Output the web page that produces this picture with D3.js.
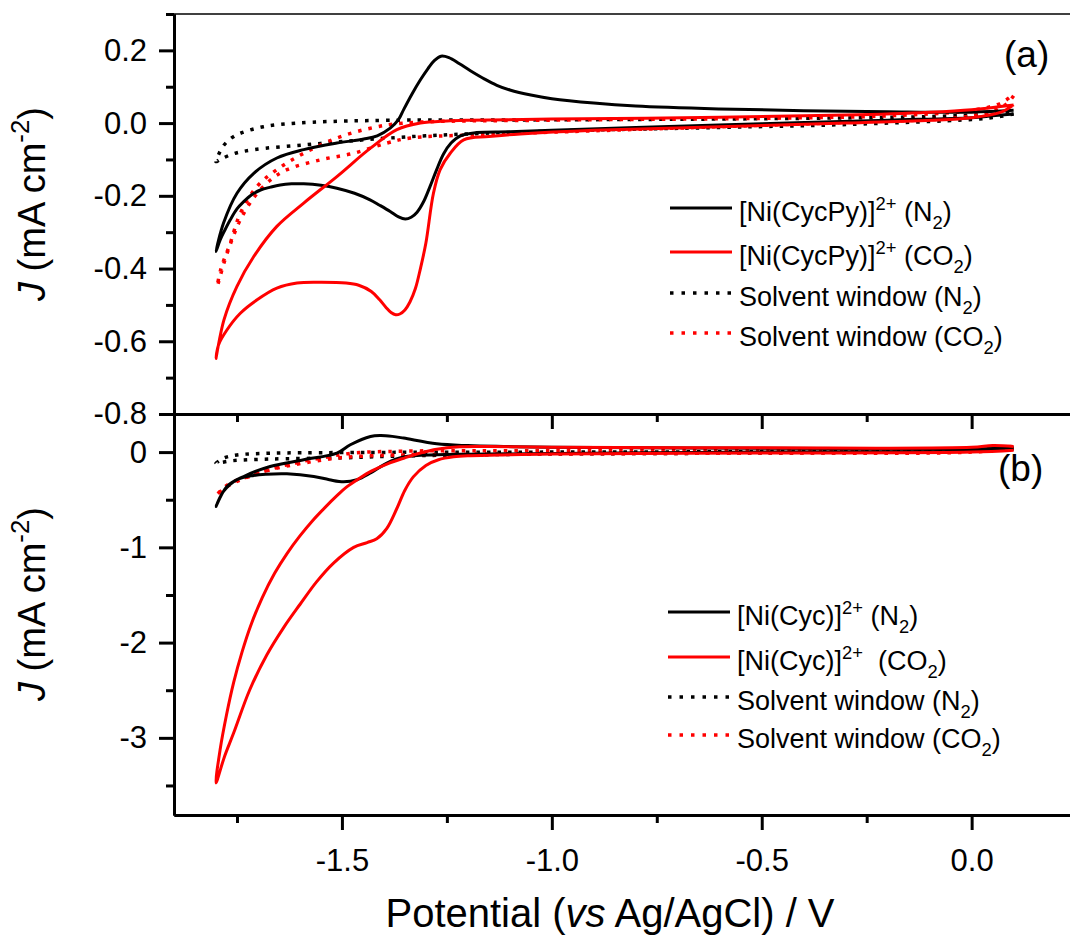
<!DOCTYPE html>
<html>
<head>
<meta charset="utf-8">
<script src="https://cdn.jsdelivr.net/npm/d3@7"></script>
<style>
  body { margin: 0; background: #fff; }
  svg { display: block; font-family: "Liberation Sans", Arial, sans-serif; }
</style>
</head>
<body>
<svg id="chart" width="1070" height="936"></svg>
<script>
// ---- data (potential in V vs Ag/AgCl, current density in mA cm-2) ----
// panel (a): [Ni(CycPy)]2+
const cycPyN2E = [0.10, 0.05, 0.0, -0.2, -0.5, -0.8, -1.0, -1.1, -1.18, -1.218, -1.24, -1.258, -1.275, -1.29, -1.305, -1.321, -1.335, -1.349, -1.365, -1.385, -1.41, -1.433, -1.47, -1.512, -1.55, -1.591, -1.62, -1.647, -1.67, -1.694, -1.715, -1.734, -1.75, -1.766, -1.78, -1.79, -1.8,
  -1.782, -1.75, -1.71, -1.655, -1.591, -1.512, -1.448, -1.416, -1.385, -1.365, -1.353, -1.333, -1.313, -1.295, -1.28, -1.264, -1.245, -1.22, -1.194, -1.16, -1.131, -1.1, -1.05, -1.0, -0.9, -0.8, -0.6, -0.4, -0.2, 0.0, 0.1];
const cycPyN2J = [0.025, 0.02, 0.015, 0.008, -0.002, -0.012, -0.02, -0.024, -0.026, -0.035, -0.055, -0.085, -0.13, -0.174, -0.215, -0.245, -0.259, -0.264, -0.258, -0.243, -0.226, -0.211, -0.193, -0.179, -0.171, -0.167, -0.167, -0.17, -0.176, -0.184, -0.197, -0.216, -0.236, -0.266, -0.297, -0.321, -0.353,
  -0.275, -0.193, -0.138, -0.096, -0.073, -0.055, -0.044, -0.035, -0.014, 0.01, 0.037, 0.08, 0.119, 0.15, 0.172, 0.184, 0.18, 0.163, 0.144, 0.121, 0.104, 0.091, 0.077, 0.067, 0.055, 0.047, 0.039, 0.034, 0.031, 0.03, 0.035];

const cycPyCO2E = [0.1, 0.07, 0.0, -0.3, -0.6, -0.9, -1.075, -1.15, -1.21, -1.242, -1.266, -1.282, -1.3, -1.313, -1.325, -1.338, -1.35, -1.362, -1.372, -1.383, -1.395, -1.41, -1.43, -1.46, -1.49, -1.551, -1.607, -1.655, -1.702, -1.742, -1.774, -1.794, -1.8,
  -1.781, -1.75, -1.71, -1.655, -1.591, -1.512, -1.432, -1.369, -1.313, -1.25, -1.2, -1.0, -0.6, -0.3, -0.1, 0.0, 0.1];
const cycPyCO2J = [0.05, 0.03, 0.015, 0.0, -0.01, -0.02, -0.03, -0.037, -0.046, -0.083, -0.128, -0.193, -0.33, -0.4, -0.455, -0.492, -0.514, -0.525, -0.527, -0.521, -0.507, -0.486, -0.463, -0.446, -0.44, -0.438, -0.44, -0.454, -0.486, -0.523, -0.569, -0.61, -0.647,
  -0.541, -0.449, -0.367, -0.284, -0.22, -0.147, -0.069, -0.018, 0.0, 0.006, 0.008, 0.011, 0.016, 0.022, 0.03, 0.037, 0.05];

const solvAN2E = [0.1, 0.05, 0.0, -0.3, -0.6, -1.0, -1.3, -1.47, -1.59, -1.71, -1.76, -1.79, -1.8,
  -1.797, -1.794, -1.782, -1.762, -1.742, -1.687, -1.607, -1.432, -1.0, -0.5, -0.1, 0.05, 0.1];
const solvAN2J = [0.025, 0.015, 0.01, -0.004, -0.012, -0.022, -0.035, -0.048, -0.06, -0.073, -0.085, -0.1, -0.106,
  -0.095, -0.087, -0.062, -0.04, -0.028, -0.01, 0.0, 0.007, 0.009, 0.012, 0.018, 0.025, 0.03];

const solvACO2E = [0.1, 0.08, 0.0, -0.3, -0.6, -1.0, -1.2, -1.337, -1.393, -1.472, -1.551, -1.631, -1.67, -1.71, -1.742, -1.762, -1.781, -1.797,
  -1.788, -1.766, -1.742, -1.702, -1.655, -1.591, -1.512, -1.432, -1.353, -1.0, -0.5, -0.2, 0.0, 0.07, 0.1];
const solvACO2J = [0.075, 0.05, 0.02, 0.002, -0.01, -0.025, -0.033, -0.041, -0.055, -0.083, -0.101, -0.128, -0.156, -0.205, -0.266, -0.321, -0.385, -0.449,
  -0.4, -0.33, -0.248, -0.174, -0.128, -0.083, -0.041, -0.014, 0.0, 0.008, 0.013, 0.02, 0.035, 0.055, 0.08];

// panel (b): [Ni(Cyc)]2+
const cycN2E = [0.1, 0.0, -0.5, -1.0, -1.2, -1.274, -1.353, -1.393, -1.432, -1.464, -1.496, -1.53, -1.567, -1.631, -1.68, -1.71, -1.75, -1.782, -1.8,
  -1.774, -1.734, -1.671, -1.591, -1.512, -1.48, -1.432, -1.408, -1.38, -1.353, -1.274, -1.2, -1.115, -1.0, -0.5, 0.0, 0.1];
const cycN2J = [0.03, 0.015, 0.0, -0.015, -0.022, -0.028, -0.052, -0.115, -0.22, -0.29, -0.312, -0.29, -0.256, -0.228, -0.232, -0.245, -0.29, -0.413, -0.571,
  -0.361, -0.256, -0.151, -0.081, -0.01, 0.077, 0.164, 0.174, 0.165, 0.147, 0.087, 0.068, 0.059, 0.052, 0.04, 0.035, 0.04];

const cycCO2E = [0.1, 0.0, -0.5, -1.0, -1.1, -1.194, -1.234, -1.27, -1.3, -1.33, -1.35, -1.37, -1.393, -1.417, -1.44, -1.472, -1.52, -1.56, -1.6, -1.64, -1.679, -1.72, -1.758, -1.78, -1.8,
  -1.79, -1.775, -1.758, -1.738, -1.718, -1.69, -1.66, -1.63, -1.6, -1.57, -1.54, -1.51, -1.49, -1.46, -1.43, -1.39, -1.35, -1.313, -1.274, -1.22, -1.15, -1.0, -0.5, 0.0, 0.05, 0.1];
const cycCO2J = [0.02, 0.0, -0.01, -0.02, -0.028, -0.038, -0.05, -0.08, -0.14, -0.26, -0.4, -0.6, -0.8, -0.91, -0.95, -1.0, -1.165, -1.36, -1.6, -1.85, -2.13, -2.5, -2.95, -3.2, -3.473,
  -3.12, -2.76, -2.42, -2.1, -1.83, -1.53, -1.27, -1.06, -0.88, -0.72, -0.58, -0.45, -0.37, -0.28, -0.2, -0.12, -0.06, -0.01, 0.03, 0.055, 0.058, 0.05, 0.045, 0.05, 0.07, 0.06];

const solvBN2E = [0.1, 0.0, -0.5, -1.0, -1.35, -1.5, -1.671, -1.76, -1.8,
  -1.795, -1.782, -1.75, -1.671, -1.5, -1.0, -0.5, 0.0, 0.1];
const solvBN2J = [0.04, 0.01, -0.01, -0.02, -0.04, -0.06, -0.073, -0.09, -0.115,
  -0.1, -0.063, -0.03, -0.012, -0.005, 0.0, 0.005, 0.02, 0.045];

const solvBCO2E = [0.1, 0.0, -0.5, -1.0, -1.353, -1.432, -1.512, -1.591, -1.671, -1.75, -1.78, -1.8,
  -1.785, -1.766, -1.71, -1.631, -1.551, -1.472, -1.353, -1.0, -0.5, 0.0, 0.1];
const solvBCO2J = [0.04, 0.0, -0.01, -0.02, -0.03, -0.039, -0.063, -0.115, -0.186, -0.308, -0.38, -0.459,
  -0.39, -0.326, -0.238, -0.133, -0.063, -0.01, 0.01, 0.015, 0.02, 0.035, 0.06];

// tick values
const xMajor = [-1.5, -1.0, -0.5, 0.0];
const xMinor = [-1.75, -1.25, -0.75, -0.25];
const yAMajor = [0.2, 0.0, -0.2, -0.4, -0.6, -0.8];
const yAMinor = [0.3, 0.1, -0.1, -0.3, -0.5, -0.7];
const yBMajor = [0, -1, -2, -3];
const yBMinor = [-0.5, -1.5, -2.5, -3.5];

// ---- chart ----
const svg = d3.select('#chart');
svg.append('rect').attr('width', 1070).attr('height', 936).attr('fill', '#fff');

const x = d3.scaleLinear().domain([-1.9, 0.2343]).range([174, 1070]);
const yA = d3.scaleLinear().domain([-0.8, 0.3]).range([414, 14]);
const yB = d3.scaleLinear().domain([-3.81, 0.4]).range([815, 414]);

const zip = (E, J) => E.map((e, i) => [e, J[i]]);

function drawCurve(yScale, E, J, color, dotted) {
    const line = d3.line()
        .x(d => x(d[0]))
        .y(d => yScale(d[1]))
        .curve(d3.curveCatmullRom.alpha(0.5));
    svg.append('path')
        .datum(zip(E, J))
        .attr('fill', 'none')
        .attr('stroke', color)
        .attr('stroke-width', dotted ? 3.5 : 3)
        .attr('stroke-dasharray', dotted ? '3.5 7' : null)
        .attr('stroke-linejoin', 'round')
        .attr('d', line);
}

// panel (a) curves
drawCurve(yA, solvAN2E, solvAN2J, '#000', true);
drawCurve(yA, solvACO2E, solvACO2J, '#ff0000', true);
drawCurve(yA, cycPyN2E, cycPyN2J, '#000', false);
drawCurve(yA, cycPyCO2E, cycPyCO2J, '#ff0000', false);

// panel (b) curves
drawCurve(yB, solvBN2E, solvBN2J, '#000', true);
drawCurve(yB, solvBCO2E, solvBCO2J, '#ff0000', true);
drawCurve(yB, cycN2E, cycN2J, '#000', false);
drawCurve(yB, cycCO2E, cycCO2J, '#ff0000', false);

// axes
function styleAxis(g, fontSize) {
    g.select('.domain').attr('stroke-width', 3).attr('stroke', '#000');
    g.selectAll('.tick line').attr('stroke-width', 3).attr('stroke', '#000');
    g.selectAll('text').attr('font-size', fontSize).attr('fill', '#000')
     .attr('font-family', '"Liberation Sans", Arial, sans-serif');
}

// top border of panel (a)
svg.append('line')
   .attr('x1', 174).attr('x2', 1070).attr('y1', 14).attr('y2', 14)
   .attr('stroke', '#000').attr('stroke-width', 1.5);

// panel (a) y axis
const gA = svg.append('g').attr('transform', 'translate(174,0)')
    .call(d3.axisLeft(yA).tickValues(yAMajor).tickSize(15).tickSizeOuter(0).tickPadding(12)
          .tickFormat(d => d.toFixed(1).replace('-0.0', '0.0')));
styleAxis(gA, 31);
const gAm = svg.append('g').attr('transform', 'translate(174,0)')
    .call(d3.axisLeft(yA).tickValues(yAMinor).tickSize(8).tickSizeOuter(0).tickFormat(''));
styleAxis(gAm, 31);

// panel (b) y axis
const gB = svg.append('g').attr('transform', 'translate(174,0)')
    .call(d3.axisLeft(yB).tickValues(yBMajor).tickSize(15).tickSizeOuter(0).tickPadding(12)
          .tickFormat(d => String(d)));
styleAxis(gB, 31);
const gBm = svg.append('g').attr('transform', 'translate(174,0)')
    .call(d3.axisLeft(yB).tickValues(yBMinor).tickSize(8).tickSizeOuter(0).tickFormat(''));
styleAxis(gBm, 31);

// x axis under panel (a), ticks only
const gXa = svg.append('g').attr('transform', 'translate(0,414)')
    .call(d3.axisBottom(x).tickValues(xMajor).tickSize(15).tickSizeOuter(0).tickFormat(''));
styleAxis(gXa, 31);
const gXam = svg.append('g').attr('transform', 'translate(0,414)')
    .call(d3.axisBottom(x).tickValues(xMinor).tickSize(8).tickSizeOuter(0).tickFormat(''));
styleAxis(gXam, 31);

// x axis under panel (b)
const gXb = svg.append('g').attr('transform', 'translate(0,815)')
    .call(d3.axisBottom(x).tickValues(xMajor).tickSize(15).tickSizeOuter(0)
          .tickFormat(d => d.toFixed(1)));
styleAxis(gXb, 31);
gXb.selectAll('text').attr('y', 56).attr('dy', null);
const gXbm = svg.append('g').attr('transform', 'translate(0,815)')
    .call(d3.axisBottom(x).tickValues(xMinor).tickSize(8).tickSizeOuter(0).tickFormat(''));
styleAxis(gXbm, 31);

// rich text helper: segments with optional sup / sub
function richText(parent, segs, fontSize) {
    const t = parent;
    let shift = 0;
    segs.forEach(s => {
        const target = s.sup ? -0.42 * fontSize : s.sub ? 0.28 * fontSize : 0;
        const ts = t.append('tspan').text(s.t).attr('dy', target - shift);
        if (s.sup || s.sub) ts.attr('font-size', fontSize * 0.68);
        if (s.it) ts.attr('font-style', 'italic');
        shift = target;
    });
}

// axis titles
function yTitle(cy) {
    const t = svg.append('text')
        .attr('transform', `translate(45,${cy}) rotate(-90)`)
        .attr('text-anchor', 'middle')
        .attr('font-size', 38);
    richText(t, [{ t: 'J', it: true }, { t: ' (mA cm' }, { t: '-2', sup: true }, { t: ')' }], 38);
}
yTitle(204);
yTitle(604);

const xt = svg.append('text')
    .attr('x', 610).attr('y', 927)
    .attr('text-anchor', 'middle')
    .attr('font-size', 40);
richText(xt, [{ t: 'Potential (' }, { t: 'vs', it: true }, { t: ' Ag/AgCl) / V' }], 40);

// panel labels
svg.append('text').attr('x', 1004).attr('y', 67).attr('font-size', 37).text('(a)');
svg.append('text').attr('x', 998).attr('y', 481).attr('font-size', 37).text('(b)');

// legends
const legA = [
    { y: 208, color: '#000', dotted: false, segs: [{ t: '[Ni(CycPy)]' }, { t: '2+', sup: true }, { t: ' (N' }, { t: '2', sub: true }, { t: ')' }] },
    { y: 252, color: '#ff0000', dotted: false, segs: [{ t: '[Ni(CycPy)]' }, { t: '2+', sup: true }, { t: ' (CO' }, { t: '2', sub: true }, { t: ')' }] },
    { y: 293, color: '#000', dotted: true, segs: [{ t: 'Solvent window (N' }, { t: '2', sub: true }, { t: ')' }] },
    { y: 333, color: '#ff0000', dotted: true, segs: [{ t: 'Solvent window (CO' }, { t: '2', sub: true }, { t: ')' }] }
];
const legB = [
    { y: 612, color: '#000', dotted: false, segs: [{ t: '[Ni(Cyc)]' }, { t: '2+', sup: true }, { t: ' (N' }, { t: '2', sub: true }, { t: ')' }] },
    { y: 657, color: '#ff0000', dotted: false, segs: [{ t: '[Ni(Cyc)]' }, { t: '2+', sup: true }, { t: '\u00a0 (CO' }, { t: '2', sub: true }, { t: ')' }] },
    { y: 697, color: '#000', dotted: true, segs: [{ t: 'Solvent window (N' }, { t: '2', sub: true }, { t: ')' }] },
    { y: 735, color: '#ff0000', dotted: true, segs: [{ t: 'Solvent window (CO' }, { t: '2', sub: true }, { t: ')' }] }
];

function drawLegend(items, x0) {
    items.forEach(it => {
        svg.append('line')
           .attr('x1', x0).attr('x2', x0 + 62).attr('y1', it.y).attr('y2', it.y)
           .attr('stroke', it.color)
           .attr('stroke-width', it.dotted ? 3.5 : 3)
           .attr('stroke-dasharray', it.dotted ? '3.5 8' : null);
        const t = svg.append('text')
            .attr('x', x0 + 69).attr('y', it.y + 13)
            .attr('font-size', 27);
        richText(t, it.segs, 27);
    });
}
drawLegend(legA, 670);
drawLegend(legB, 668);
</script>
</body>
</html>
